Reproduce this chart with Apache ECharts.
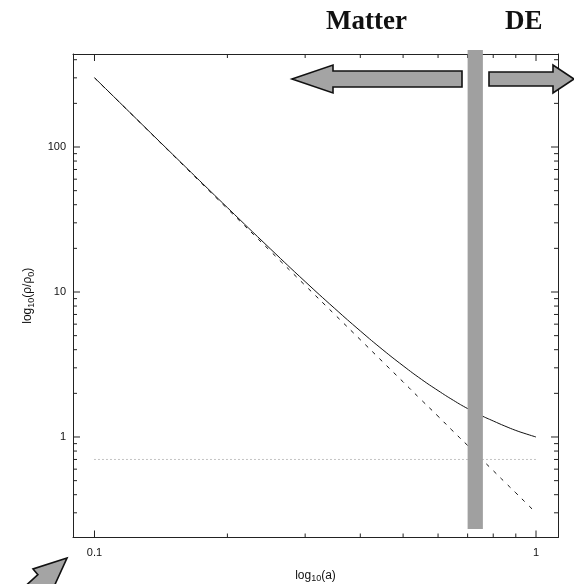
<!DOCTYPE html>
<html>
<head>
<meta charset="utf-8">
<script src="https://cdn.jsdelivr.net/npm/echarts@6/dist/echarts.min.js"></script>
<style>
  html, body { margin: 0; padding: 0; background: #fff; }
  #chart { width: 574px; height: 584px; }
</style>
</head>
<body>
<div id="chart"></div>
<script>
// Scale factor a and densities rho/rho0
const scaleFactor = [0.1, 0.12, 0.15, 0.2, 0.25, 0.3, 0.35, 0.4, 0.45, 0.5,
                     0.55, 0.6, 0.65, 0.7, 0.75, 0.8, 0.85, 0.9, 0.95, 1.0];
const totalDensity = [300.7, 174.3, 89.6, 38.2, 19.9, 11.8, 7.70, 5.39, 3.99, 3.10,
                      2.50, 2.09, 1.79, 1.57, 1.41, 1.29, 1.19, 1.11, 1.05, 1.00];
const matterDensity = [300, 174, 89, 37.5, 19.2, 11.1, 7.0, 4.69, 3.29, 2.40,
                       1.80, 1.39, 1.09, 0.875, 0.711, 0.586, 0.488, 0.412, 0.350, 0.300];
const darkEnergyA = [0.1, 1.0];
const darkEnergyDensity = [0.7, 0.7];

// Transition band (a range)
const transitionBand = [0.70, 0.758];

// Axis ticks
const xMajorTicks = [0.1, 1];
const xMinorTicks = [0.2, 0.3, 0.4, 0.5, 0.6, 0.7, 0.8, 0.9];
const yMajorTicks = [1, 10, 100];
const yMinorTicks = [0.3, 0.4, 0.5, 0.6, 0.7, 0.8, 0.9, 2, 3, 4, 5, 6, 7, 8, 9,
                     20, 30, 40, 50, 60, 70, 80, 90, 200, 300, 400];

const X_MIN = 0.0894, X_MAX = 1.1215;
const Y_MIN = 0.2027, Y_MAX = 438;

const zip = (xs, ys) => xs.map((x, i) => [x, ys[i]]);
const isPow10 = v => Math.abs(Math.log10(v) - Math.round(Math.log10(v))) < 1e-9;

const chart = echarts.init(document.getElementById('chart'), null, { renderer: 'canvas' });

const axisCommon = {
  type: 'log',
  logBase: 10,
  axisLine: { show: true, lineStyle: { color: '#222', width: 1 } },
  axisTick: { show: false },
  splitLine: { show: false },
  minorTick: { show: false },
  minorSplitLine: { show: false }
};

const nameRich = {
  b: { fontFamily: 'Liberation Sans', fontSize: 12, color: '#111' },
  s: { fontFamily: 'Liberation Sans', fontSize: 9, color: '#111', padding: [7, 0, 0, 0] }
};

// Short inward ticks drawn on all four sides of the frame
function tickRenderer(isX) {
  return function (params, api) {
    const v = api.value(isX ? 0 : 1);
    const major = api.value(2) === 1;
    const len = major ? 7 : 4;
    const style = { stroke: '#222', lineWidth: 1 };
    if (isX) {
      const b = api.coord([v, Y_MIN]);
      const t = api.coord([v, Y_MAX]);
      return { type: 'group', children: [
        { type: 'line', shape: { x1: b[0], y1: b[1], x2: b[0], y2: b[1] - len }, style },
        { type: 'line', shape: { x1: t[0], y1: t[1], x2: t[0], y2: t[1] + len }, style }
      ]};
    }
    const l = api.coord([X_MIN, v]);
    const r = api.coord([X_MAX, v]);
    return { type: 'group', children: [
      { type: 'line', shape: { x1: l[0], y1: l[1], x2: l[0] + len, y2: l[1] }, style },
      { type: 'line', shape: { x1: r[0], y1: r[1], x2: r[0] - len, y2: r[1] }, style }
    ]};
  };
}

const xTickData = xMajorTicks.map(v => [v, 1, 1]).concat(xMinorTicks.map(v => [v, 1, 0]));
const yTickData = yMajorTicks.map(v => [1, v, 1]).concat(yMinorTicks.map(v => [1, v, 0]));

// Block arrows
const arrowLeft = [[292, 79], [333, 65], [333, 71], [462, 71], [462, 87], [333, 87], [333, 93]];
const arrowRight = [[489, 72], [553, 72], [553, 65], [574, 79], [553, 93], [553, 86], [489, 86]];
const arrowCorner = [[67, 558], [33, 569], [37.9, 574.7], [8.3, 601.5], [17.5, 612], [47.1, 585.3], [52, 591]];

const arrowStyle = { fill: '#a4a4a4', stroke: '#111', lineWidth: 1.6 };

chart.setOption({
  animation: false,
  backgroundColor: '#fff',
  grid: { left: 73, right: 16, top: 54, bottom: 46.5, containLabel: false, outerBoundsMode: 'none' },
  xAxis: [
    Object.assign({}, axisCommon, {
      position: 'bottom',
      min: X_MIN, max: X_MAX,
      name: '{b|log}{s|10}{b|(a)}',
      nameLocation: 'middle',
      nameGap: 30,
      nameTextStyle: { rich: nameRich },
      axisLabel: {
        show: true, margin: 10, color: '#111', fontFamily: 'Liberation Sans', fontSize: 11,
        showMinLabel: false, showMaxLabel: false,
        formatter: v => (isPow10(v) ? String(+v.toPrecision(6)) : '')
      }
    }),
    Object.assign({}, axisCommon, {
      position: 'top',
      min: X_MIN, max: X_MAX,
      axisLabel: { show: false }
    })
  ],
  yAxis: [
    Object.assign({}, axisCommon, {
      position: 'left',
      min: Y_MIN, max: Y_MAX,
      name: '{b|log}{s|10}{b|(\u03c1/\u03c1}{s|0}{b|)}',
      nameLocation: 'middle',
      nameGap: 37,
      nameRotate: 90,
      nameTextStyle: { rich: nameRich },
      axisLabel: {
        show: true, margin: 7, color: '#111', fontFamily: 'Liberation Sans', fontSize: 11,
        showMinLabel: false, showMaxLabel: false,
        formatter: v => (isPow10(v) ? String(+v.toPrecision(6)) : '')
      }
    }),
    Object.assign({}, axisCommon, {
      position: 'right',
      min: Y_MIN, max: Y_MAX,
      axisLabel: { show: false }
    })
  ],
  graphic: [
    { type: 'text', left: 326, top: 9, style: { text: 'Matter', font: 'bold 27px "Liberation Serif"', fill: '#111' } },
    { type: 'text', left: 505, top: 9, style: { text: 'DE', font: 'bold 27px "Liberation Serif"', fill: '#111' } },
    { type: 'polygon', z: 200, shape: { points: arrowLeft }, style: arrowStyle },
    { type: 'polygon', z: 200, shape: { points: arrowRight }, style: arrowStyle },
    { type: 'polygon', z: 200, shape: { points: arrowCorner }, style: arrowStyle }
  ],
  series: [
    {
      name: 'total', type: 'line', data: zip(scaleFactor, totalDensity),
      showSymbol: false, smooth: true, lineStyle: { color: '#111', width: 1 }, z: 3
    },
    {
      name: 'matter', type: 'line', data: zip(scaleFactor, matterDensity),
      showSymbol: false, smooth: true, lineStyle: { color: '#111', width: 1, type: [4, 6] }, z: 3
    },
    {
      name: 'dark energy', type: 'line', data: zip(darkEnergyA, darkEnergyDensity),
      showSymbol: false, lineStyle: { color: '#888', width: 1, type: [1, 3] }, z: 3
    },
    {
      name: 'transition', type: 'custom', z: 10, clip: false,
      data: [[transitionBand[0], transitionBand[1]]],
      encode: { x: [0, 1] },
      renderItem: function (params, api) {
        const p0 = api.coord([api.value(0), 467]);
        const p1 = api.coord([api.value(1), 0.232]);
        return {
          type: 'rect',
          shape: { x: p0[0], y: p0[1], width: p1[0] - p0[0], height: p1[1] - p0[1] },
          style: { fill: '#a0a0a0' }
        };
      }
    },
    {
      name: 'xticks', type: 'custom', z: 5, silent: true,
      data: xTickData, encode: { x: 0, y: 1 },
      renderItem: tickRenderer(true)
    },
    {
      name: 'yticks', type: 'custom', z: 5, silent: true,
      data: yTickData, encode: { x: 0, y: 1 },
      renderItem: tickRenderer(false)
    }
  ]
});
</script>
</body>
</html>
